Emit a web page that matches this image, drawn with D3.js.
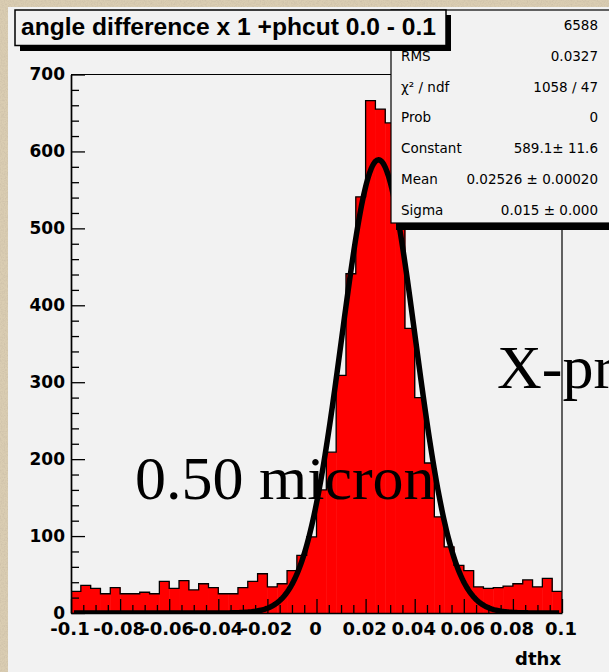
<!DOCTYPE html>
<html>
<head>
<meta charset="utf-8">
<script src="https://d3js.org/d3.v7.min.js"></script>
<style>
  html, body { margin: 0; padding: 0; background: #dacdb2; overflow: hidden; }
  svg { display: block; }
</style>
</head>
<body>
<div id="chart"></div>
<script>
// dthx histogram, 50 bins between -0.1 and 0.1
var xRange = [-0.1, 0.1];
var counts = [28, 36, 32, 25, 33, 25, 25, 27, 25, 41,
              32, 42, 30, 38, 33, 25, 25, 33, 41, 51,
              34, 38, 55, 75, 99, 160, 209, 309, 441, 541,
              666, 655, 637, 540, 370, 280, 195, 125, 86, 62,
              55, 34, 32, 33, 35, 38, 43, 34, 45, 28];

// gaussian fit shown in the stats box: constant, mean, sigma
var fitParams = [589.1, 0.02526, 0.015];

var xTicks = [-0.1, -0.08, -0.06, -0.04, -0.02, 0, 0.02, 0.04, 0.06, 0.08, 0.1];
var xTickLabels = ['-0.1', '-0.08', '-0.06', '-0.04', '-0.02', '0', '0.02', '0.04', '0.06', '0.08', '0.1'];
var yTicks = [0, 100, 200, 300, 400, 500, 600, 700];
var yTickLabels = ['0', '100', '200', '300', '400', '500', '600', '700'];

var statLabels = ['Entries', 'RMS', '\u03c7\u00b2 / ndf', 'Prob', 'Constant', 'Mean', 'Sigma'];
var statValues = ['6588', '0.0327', '1058 / 47', '0', '589.1\u00b1 11.6', '0.02526 \u00b1 0.00020', '0.015 \u00b1 0.000'];

var title = 'angle difference x 1 +phcut 0.0 - 0.1';
var xTitle = 'dthx';
var notes = ['0.50 micron', 'X-pr'];

var W = 609, H = 672;
var svg = d3.select('#chart').append('svg')
    .attr('width', W)
    .attr('height', H);

// paper texture behind the canvas
var defs = svg.append('defs');
var f = defs.append('filter').attr('id', 'paper').attr('x', 0).attr('y', 0).attr('width', 1).attr('height', 1);
f.append('feTurbulence').attr('type', 'fractalNoise').attr('baseFrequency', 0.7).attr('numOctaves', 3).attr('seed', 4);
f.append('feColorMatrix').attr('type', 'matrix')
    .attr('values', '0 0 0 0 0.55  0 0 0 0 0.47  0 0 0 0 0.36  1.1 0 0 0 -0.42');
defs.append('clipPath').attr('id', 'frame').append('rect')
    .attr('x', 71).attr('y', 74.5).attr('width', 491).attr('height', 538.5);

svg.append('rect').attr('width', W).attr('height', H).attr('fill', '#dacdb2');
svg.append('rect').attr('width', W).attr('height', H).attr('filter', 'url(#paper)');
svg.append('rect').attr('x', 8).attr('y', 7).attr('width', W - 8).attr('height', H - 7).attr('fill', '#f2f2f2');

var x = d3.scaleLinear().domain(xRange).range([71, 562]);
var y = d3.scaleLinear().domain([0, 700]).range([613, 74.5]);

var binW = (xRange[1] - xRange[0]) / counts.length;
var bins = counts.map(function(c, i) { return {x0: xRange[0] + i * binW, x1: xRange[0] + (i + 1) * binW, n: c}; });

var plot = svg.append('g').attr('clip-path', 'url(#frame)');

plot.selectAll('.bar')
    .data(bins)
    .enter().append('rect')
    .attr('class', 'bar')
    .attr('x', function(d) { return x(d.x0); })
    .attr('y', function(d) { return y(d.n); })
    .attr('width', function(d) { return x(d.x1) - x(d.x0) + 0.5; })
    .attr('height', function(d) { return y(0) - y(d.n); })
    .attr('fill', '#ff0000');

// step outline of the histogram
var stepPts = bins.map(function(d) { return [d.x0, d.n]; });
stepPts.push([xRange[1], counts[counts.length - 1]]);
plot.append('path')
    .datum(stepPts)
    .attr('fill', 'none')
    .attr('stroke', '#000')
    .attr('stroke-width', 1.3)
    .attr('d', d3.line()
        .x(function(d) { return x(d[0]); })
        .y(function(d) { return y(d[1]); })
        .curve(d3.curveStepAfter));

// fit curve
var gaus = function(v) {
    var z = (v - fitParams[1]) / fitParams[2];
    return fitParams[0] * Math.exp(-0.5 * z * z);
};
var fx = d3.scaleLinear().domain([0, 400]).range([-0.0988, 0.0988]);
plot.append('path')
    .datum(d3.range(401).map(function(i) { return fx(i); }))
    .attr('fill', 'none')
    .attr('stroke', '#000')
    .attr('stroke-width', 5.5)
    .attr('stroke-linejoin', 'round')
    .attr('d', d3.line()
        .x(function(d) { return x(d); })
        .y(function(d) { return y(gaus(d)); }));

// axes
var axisFont = '"DejaVu Sans", sans-serif';
var yMinor = d3.range(0, 701, 20).filter(function(v) { return v % 100 !== 0; });
svg.append('g')
    .attr('transform', 'translate(71,0)')
    .call(d3.axisLeft(y).tickValues(yMinor).tickSize(-8).tickFormat(''))
    .call(function(g) { g.select('.domain').remove(); });
var yAxis = svg.append('g')
    .attr('transform', 'translate(71,0)')
    .call(d3.axisLeft(y).tickValues(yTicks).tickSize(-14).tickSizeOuter(0).tickPadding(6)
        .tickFormat(function(d, i) { return yTickLabels[i]; }));

var xMinor = d3.range(-0.1, 0.1001, 0.005).filter(function(v) {
    return Math.abs(Math.round(v / 0.02) * 0.02 - v) > 1e-6;
});
svg.append('g')
    .attr('transform', 'translate(0,613)')
    .call(d3.axisBottom(x).tickValues(xMinor).tickSize(-8).tickFormat(''))
    .call(function(g) { g.select('.domain').remove(); });
var xAxis = svg.append('g')
    .attr('transform', 'translate(0,613)')
    .call(d3.axisBottom(x).tickValues(xTicks).tickSize(-14).tickSizeOuter(0).tickPadding(9)
        .tickFormat(function(d, i) { return xTickLabels[i]; }));

svg.selectAll('.tick line').attr('stroke', '#000').attr('stroke-width', 1.3);
svg.selectAll('.domain').attr('stroke', '#000').attr('stroke-width', 1.7);
svg.selectAll('.tick text')
    .attr('fill', '#000')
    .style('font-family', axisFont)
    .style('font-weight', 'bold')
    .style('font-size', '17px');
xAxis.selectAll('.tick text').attr('dx', -1.5).style('font-size', '18px');

// frame top and right
svg.append('path')
    .attr('d', 'M71,74.5H562V613')
    .attr('fill', 'none')
    .attr('stroke', '#000')
    .attr('stroke-width', 1.2);

svg.append('text')
    .attr('x', 561).attr('y', 665)
    .attr('text-anchor', 'end')
    .style('font-family', axisFont)
    .style('font-weight', 'bold')
    .style('font-size', '18px')
    .text(xTitle);

// stats box
svg.append('rect').attr('x', 396).attr('y', 16).attr('width', 260).attr('height', 214).attr('fill', '#000');
svg.append('rect').attr('x', 391).attr('y', 10).attr('width', 260).attr('height', 213)
    .attr('fill', '#f2f2f2').attr('stroke', '#000').attr('stroke-width', 1.2);
var rows = svg.append('g').style('font-family', axisFont).style('font-size', '13.5px').attr('fill', '#000');
statLabels.forEach(function(lab, i) {
    var cy = 25 + i * 30.8 + 5;
    rows.append('text').attr('x', 401).attr('y', cy).text(lab);
    rows.append('text').attr('x', 598).attr('y', cy).attr('text-anchor', 'end').text(statValues[i]);
});

// title box
svg.append('rect').attr('x', 20).attr('y', 15).attr('width', 431).attr('height', 36).attr('fill', '#000');
svg.append('rect').attr('x', 15).attr('y', 10).attr('width', 431).attr('height', 35.5)
    .attr('fill', '#f2f2f2').attr('stroke', '#000').attr('stroke-width', 1.5);
svg.append('text')
    .attr('x', 21).attr('y', 35)
    .attr('textLength', 415)
    .attr('lengthAdjust', 'spacingAndGlyphs')
    .style('font-family', '"Liberation Sans", Arial, sans-serif')
    .style('font-weight', 'bold')
    .style('font-size', '23px')
    .text(title);

// overlaid annotations
var serif = '"Liberation Serif", "Times New Roman", serif';
svg.append('text').attr('x', 135).attr('y', 499)
    .style('font-family', serif).style('font-size', '62px').text(notes[0]);
svg.append('text').attr('x', 497).attr('y', 388)
    .style('font-family', serif).style('font-size', '62px').text(notes[1]);
</script>
</body>
</html>
